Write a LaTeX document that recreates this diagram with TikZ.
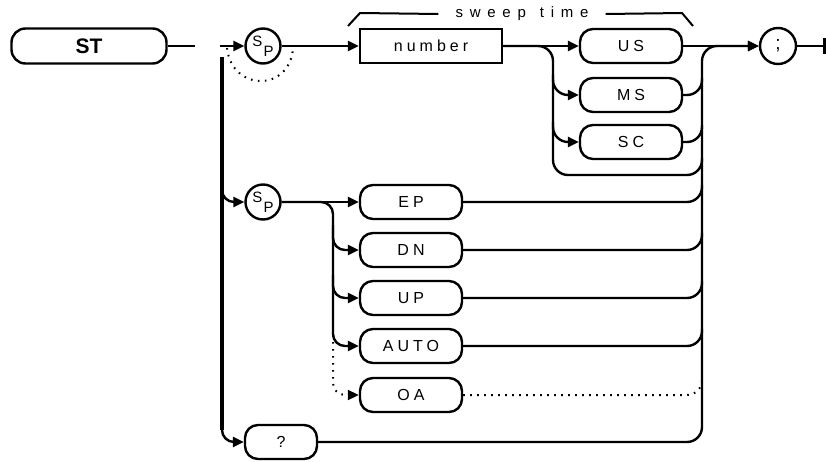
\documentclass[tikz,border=0pt]{standalone}
\usepackage{fontspec}
\setmainfont{Liberation Sans}
\newfontfamily\kwfont[LetterSpace=25]{Liberation Sans}
\newfontfamily\swfont[LetterSpace=45]{Liberation Sans}
\usetikzlibrary{arrows.meta}
\newcommand\kwf{\kwfont\fontsize{16}{18}\selectfont}
\newcommand\swf{\swfont\fontsize{15}{17}\selectfont}
\newcommand\stf{\bfseries\fontsize{21}{23}\selectfont}
\newcommand\spf{\fontsize{15}{17}\selectfont}
\tikzset{
  kwbox/.style={draw, rounded corners=13pt, minimum width=102pt, minimum height=34pt, inner sep=0pt, font=\kwf},
  stbox/.style={draw, rounded corners=14pt, minimum width=155pt, minimum height=35pt, inner sep=0pt, font=\stf},
  numbox/.style={draw, minimum width=142pt, minimum height=34pt, inner sep=0pt, font=\kwf},
  spc/.style={draw, circle, minimum size=35pt, inner sep=0pt, font=\spf},
  arr/.style={-{Triangle[length=11pt,width=10pt]}},
  dotline/.style={dash pattern=on 1.6pt off 5.4pt, line width=2pt},
  rc/.style={rounded corners=15pt},
}
\newcommand\spsym{\raisebox{4pt}{S}\kern1pt\raisebox{-6pt}{P}}
\begin{document}
\begin{tikzpicture}[x=1pt,y=-1pt,line width=2.4pt]
\useasboundingbox (0,0) rectangle (826,461);
% nodes
\node[stbox] (st) at (89,46) {ST};
\coordinate (gapL) at (195,46);
\coordinate (gapR) at (220,46);
\node[spc] (sp1) at (263,46) {\spsym};
\node[numbox] (num) at (431,46) {number};
\node[kwbox] (us) at (631,46) {US};
\node[kwbox] (ms) at (631,95) {MS};
\node[kwbox] (sc) at (631,142) {SC};
\node[draw, circle, minimum size=36pt, inner sep=0pt, font=\fontsize{19}{21}\selectfont] (semi) at (778,46) {;};
\coordinate (endp) at (824,46);
\node[font=\swf, inner xsep=16pt, inner ysep=0pt] (sw) at (522,14) {sweep\hspace{14pt}time};
\node[spc] (sp2) at (263,202) {\spsym};
\node[kwbox] (ep) at (411,202) {EP};
\node[kwbox] (dn) at (411,250) {DN};
\node[kwbox] (up) at (411,298) {UP};
\node[kwbox] (auto) at (411,346) {AUTO};
\node[kwbox] (oa) at (411,395) {OA};
\node[kwbox, minimum width=72pt] (q) at (281,442) {?};
% top row
\draw (st.east) -- (gapL);
\draw[arr] (gapR) -- (sp1.west);
\draw[arr] (sp1.east) -- (num.west);
\draw[dotline] (227,48) .. controls (232,92) and (290,92) .. (293,48);
\draw[arr] (num.east) -- (us.west);
\draw[rc] (num.east) -- (553,46) -- (553,175) -- (702,175) -- (702,158);
\draw[arr, rc] (553,75) |- (ms.west);
\draw[arr, rc] (553,122) |- (sc.west);
\draw[rc] (ms.east) -| (702,78);
\draw[rc] (sc.east) -| (702,125);
\draw[arr] (us.east) -- (semi.west);
\draw[arr, rc] (q.east) -| (702,46) -- (semi.west);
\draw (semi.east) -- (endp);
\draw[line width=3pt] (824,38) -- (824,54);
% sweep time bracket
\draw[line width=2pt] (348,26) -- (360,13) -- (sw.west);
\draw[line width=2pt] (sw.east) -- (682,13) -- (693,26);
% left bar
\draw[line width=4.4pt] (222,57) -- (222,430);
\draw[arr, rounded corners=12pt] (222,415) |- (q.west);
\draw[arr, rounded corners=12pt] (222,180) |- (sp2.west);
% second group
\draw[arr] (sp2.east) -- (ep.west);
\draw[arr, rounded corners=12pt] (sp2.east) -- (333,202) |- (auto.west);
\draw[arr, rounded corners=12pt] (333,225) |- (dn.west);
\draw[arr, rounded corners=12pt] (333,275) |- (up.west);
\draw[dotline, arr, rounded corners=12pt] (333,335) |- (oa.west);
\draw[rc] (ep.east) -| (702,185);
\draw[rc] (dn.east) -| (702,233);
\draw[rc] (up.east) -| (702,281);
\draw[rc] (auto.east) -| (702,329);
\draw[dotline, rc] (oa.east) -| (702,378);
\end{tikzpicture}
\end{document}
